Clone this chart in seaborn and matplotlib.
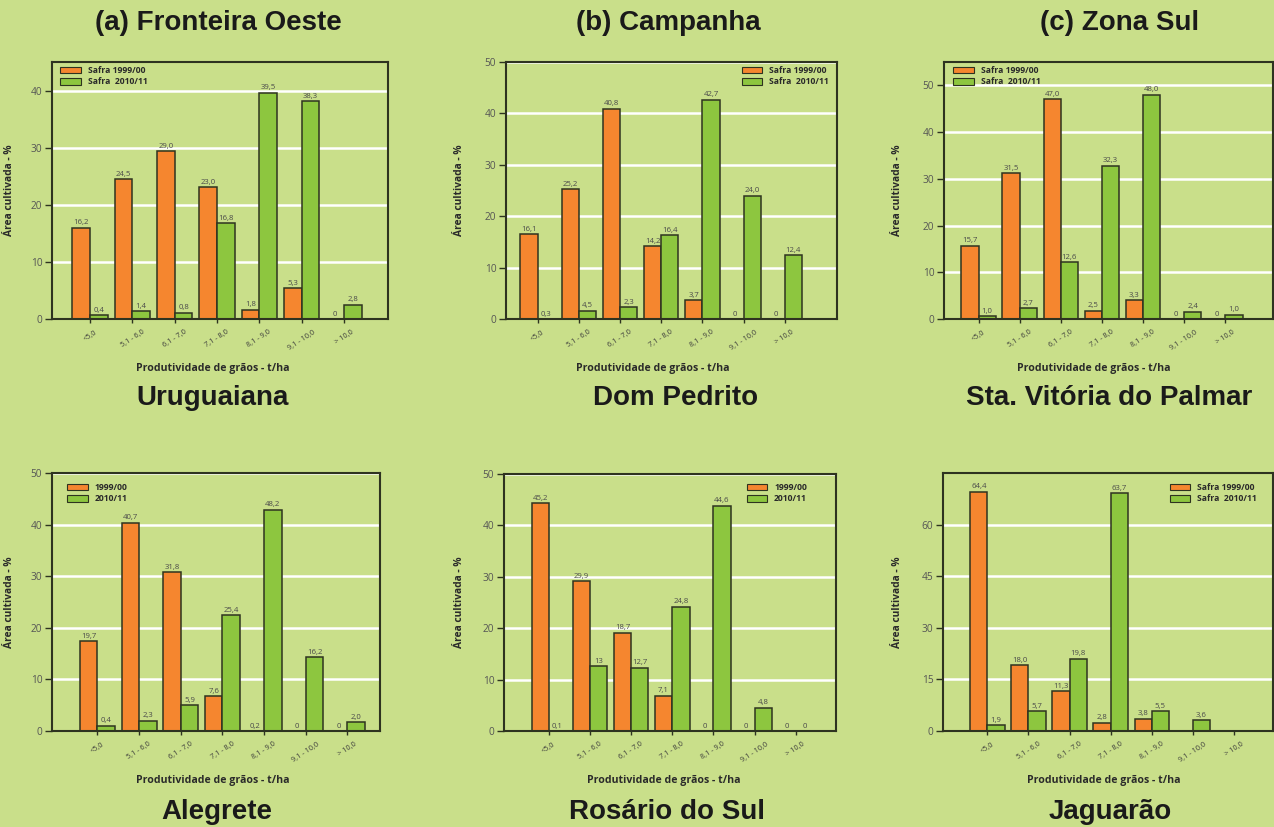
import matplotlib
matplotlib.use("Agg")
import matplotlib.pyplot as plt
from matplotlib.patches import Patch
import pandas as pd
import seaborn as sns

# ---------------- data ----------------
categories = ["<5,0", "5,1 - 6,0", "6,1 - 7,0", "7,1 - 8,0", "8,1 - 9,0", "9,1 - 10,0", "> 10,0"]
regions = ["(a) Fronteira Oeste", "(b) Campanha", "(c) Zona Sul"]
municipalities = ["Uruguaiana", "Dom Pedrito", "Sta. Vitória do Palmar",
                  "Alegrete", "Rosário do Sul", "Jaguarão"]
legend_safra = ["Safra 1999/00", "Safra  2010/11"]
legend_short = ["1999/00", "2010/11"]

# bar heights (as drawn) and printed value labels
uruguaiana_9900 = [16.0, 24.5, 29.4, 23.1, 1.6, 5.4, 0.0]
uruguaiana_1011 = [0.7, 1.4, 1.1, 16.8, 39.6, 38.1, 2.5]
uruguaiana_lbl_9900 = ["16,2", "24,5", "29,0", "23,0", "1,8", "5,3", "0"]
uruguaiana_lbl_1011 = ["0,4", "1,4", "0,8", "16,8", "39,5", "38,3", "2,8"]

dompedrito_9900 = [16.5, 25.2, 40.9, 14.2, 3.6, 0.0, 0.0]
dompedrito_1011 = [0.0, 1.6, 2.3, 16.3, 42.7, 24.0, 12.4]
dompedrito_lbl_9900 = ["16,1", "25,2", "40,8", "14,2", "3,7", "0", "0"]
dompedrito_lbl_1011 = ["0,3", "4,5", "2,3", "16,4", "42,7", "24,0", "12,4"]

stavitoria_9900 = [15.7, 31.2, 47.0, 1.8, 4.0, 0.0, 0.0]
stavitoria_1011 = [0.6, 2.3, 12.1, 32.8, 48.0, 1.6, 0.9]
stavitoria_lbl_9900 = ["15,7", "31,5", "47,0", "2,5", "3,3", "0", "0"]
stavitoria_lbl_1011 = ["1,0", "2,7", "12,6", "32,3", "48,0", "2,4", "1,0"]

alegrete_9900 = [17.4, 40.4, 30.8, 6.8, 0.0, 0.0, 0.0]
alegrete_1011 = [1.0, 2.0, 5.0, 22.5, 42.9, 14.3, 1.7]
alegrete_lbl_9900 = ["19,7", "40,7", "31,8", "7,6", "0,2", "0", "0"]
alegrete_lbl_1011 = ["0,4", "2,3", "5,9", "25,4", "48,2", "16,2", "2,0"]

rosario_9900 = [44.3, 29.1, 19.1, 6.9, 0.0, 0.0, 0.0]
rosario_1011 = [0.0, 12.6, 12.3, 24.2, 43.8, 4.5, 0.0]
rosario_lbl_9900 = ["45,2", "29,9", "18,7", "7,1", "0", "0", "0"]
rosario_lbl_1011 = ["0,1", "13", "12,7", "24,8", "44,6", "4,8", "0"]

jaguarao_9900 = [69.6, 19.1, 11.6, 2.4, 3.6, 0.0, 0.0]
jaguarao_1011 = [1.6, 5.8, 21.0, 69.1, 5.8, 3.2, 0.0]
jaguarao_lbl_9900 = ["64,4", "18,0", "11,3", "2,8", "3,8", "", ""]
jaguarao_lbl_1011 = ["1,9", "5,7", "19,8", "63,7", "5,5", "3,6", ""]

# ---------------- style ----------------
BG = "#c9df8a"
ORANGE = "#f5862f"
GREEN = "#8dc63f"
EDGE = "#2e3320"
W, H = 1274, 827

sns.set_style("ticks")
plt.rcParams["font.family"] = ["Open Sans", "DejaVu Sans"]

fig = plt.figure(figsize=(W / 100, H / 100), dpi=100, facecolor=BG)


def fx(px):
    return px / W


def fy(py):
    return 1 - py / H


panels = [
    dict(rect=(52, 62, 388, 319), ylim=45, yt=[0, 10, 20, 30, 40], xlim=(-0.9, 7.04),
         h=(uruguaiana_9900, uruguaiana_1011), l=(uruguaiana_lbl_9900, uruguaiana_lbl_1011),
         leg=legend_safra, legpos=("upper left", 60, 66), ylab_x=15, xlab_x=213),
    dict(rect=(506, 62, 837, 319), ylim=50, yt=[0, 10, 20, 30, 40, 50], xlim=(-0.77, 7.27),
         h=(dompedrito_9900, dompedrito_1011), l=(dompedrito_lbl_9900, dompedrito_lbl_1011),
         leg=legend_safra, legpos=("upper right", 829, 66), ylab_x=465, xlab_x=653),
    dict(rect=(944, 62, 1273, 319), ylim=55, yt=[0, 10, 20, 30, 40, 50], xlim=(-0.84, 7.16),
         h=(stavitoria_9900, stavitoria_1011), l=(stavitoria_lbl_9900, stavitoria_lbl_1011),
         leg=legend_safra, legpos=("upper left", 953, 66), ylab_x=903, xlab_x=1094),
    dict(rect=(52, 473, 380, 731), ylim=50, yt=[0, 10, 20, 30, 40, 50], xlim=(-1.09, 6.78),
         h=(alegrete_9900, alegrete_1011), l=(alegrete_lbl_9900, alegrete_lbl_1011),
         leg=legend_short, legpos=("upper left", 67, 483), ylab_x=15, xlab_x=213),
    dict(rect=(504, 474, 836, 731), ylim=50, yt=[0, 10, 20, 30, 40, 50], xlim=(-1.09, 6.98),
         h=(rosario_9900, rosario_1011), l=(rosario_lbl_9900, rosario_lbl_1011),
         leg=legend_short, legpos=("upper right", 807, 483), ylab_x=465, xlab_x=664),
    dict(rect=(943, 473, 1273, 731), ylim=75, yt=[0, 15, 30, 45, 60], xlim=(-1.08, 6.95),
         h=(jaguarao_9900, jaguarao_1011), l=(jaguarao_lbl_9900, jaguarao_lbl_1011),
         leg=legend_safra, legpos=("upper right", 1257, 483), ylab_x=903, xlab_x=1104),
]

for p in panels:
    x0, y0, x1, y1 = p["rect"]
    ax = fig.add_axes([fx(x0), fy(y1), (x1 - x0) / W, (y1 - y0) / H])
    ax.set_facecolor(BG)
    s0, s1 = p["leg"]
    h0, h1 = p["h"]
    df = pd.DataFrame({
        "faixa": categories * 2,
        "safra": [s0] * len(categories) + [s1] * len(categories),
        "area": list(h0) + list(h1),
    })
    sns.barplot(data=df, x="faixa", y="area", hue="safra", order=categories,
                hue_order=[s0, s1], palette=[ORANGE, GREEN], saturation=1,
                width=0.84, errorbar=None, edgecolor=EDGE, linewidth=1.1,
                ax=ax, legend=False, zorder=3)
    ax.set_xlim(*p["xlim"])
    ax.set_ylim(0, p["ylim"])
    ax.set_yticks(p["yt"])
    ax.yaxis.grid(True, color="white", linewidth=1.8)
    ax.xaxis.grid(False)
    ax.set_axisbelow(True)
    for sp in ax.spines.values():
        sp.set_visible(True)
        sp.set_color(EDGE)
        sp.set_linewidth(1.5)
        sp.set_zorder(5)

    for cont, labels in zip(ax.containers, p["l"]):
        ax.bar_label(cont, labels=labels, padding=1, fontsize=5.6, color="#4a4a4a")

    ax.set_xticks(range(len(categories)))
    ax.set_xticklabels(categories, rotation=33, ha="center", va="top")
    ax.tick_params(axis="x", length=3, width=1, color=EDGE, labelsize=5.3,
                   labelcolor="#3a3a3a", pad=4)
    ax.tick_params(axis="y", length=5, width=1, color=EDGE, labelsize=7.3,
                   labelcolor="#555555", pad=2)

    ax.set_ylabel("Área cultivada - %", fontsize=7.4, fontweight="bold", color="#2a2a2a")
    ax.set_xlabel("Produtividade de grãos - t/ha", fontsize=7.6, fontweight="bold", color="#2a2a2a")
    ax.yaxis.set_label_coords((p["ylab_x"] - x0) / (x1 - x0), 0.5)
    ax.xaxis.set_label_coords((p["xlab_x"] - x0) / (x1 - x0), -44 / (y1 - y0))

    handles = [Patch(facecolor=ORANGE, edgecolor=EDGE, linewidth=0.8),
               Patch(facecolor=GREEN, edgecolor=EDGE, linewidth=0.8)]
    loc, lx, ly = p["legpos"]
    ax.legend(handles, [s0, s1], loc=loc, bbox_to_anchor=(fx(lx), fy(ly)),
              bbox_transform=fig.transFigure, frameon=False, borderpad=0,
              borderaxespad=0, handlelength=2.4, handleheight=0.85,
              handletextpad=0.8, labelspacing=0.25,
              prop={"size": 6.2, "weight": "bold"}, labelcolor="#2a2a2a")

title_kw = dict(fontsize=20, fontweight="bold", color="#1a1a1a",
                family=["Liberation Sans", "DejaVu Sans"], ha="center", va="center")
for txt, cx in zip(regions, [218, 668, 1120]):
    fig.text(fx(cx), fy(23), txt, **title_kw)
for txt, (cx, cy) in zip(municipalities, [(213, 398), (676, 398), (1109, 398),
                                          (217, 812), (667, 812), (1110, 812)]):
    fig.text(fx(cx), fy(cy), txt, **title_kw)

fig.savefig("out.png", dpi=100, facecolor=BG)
